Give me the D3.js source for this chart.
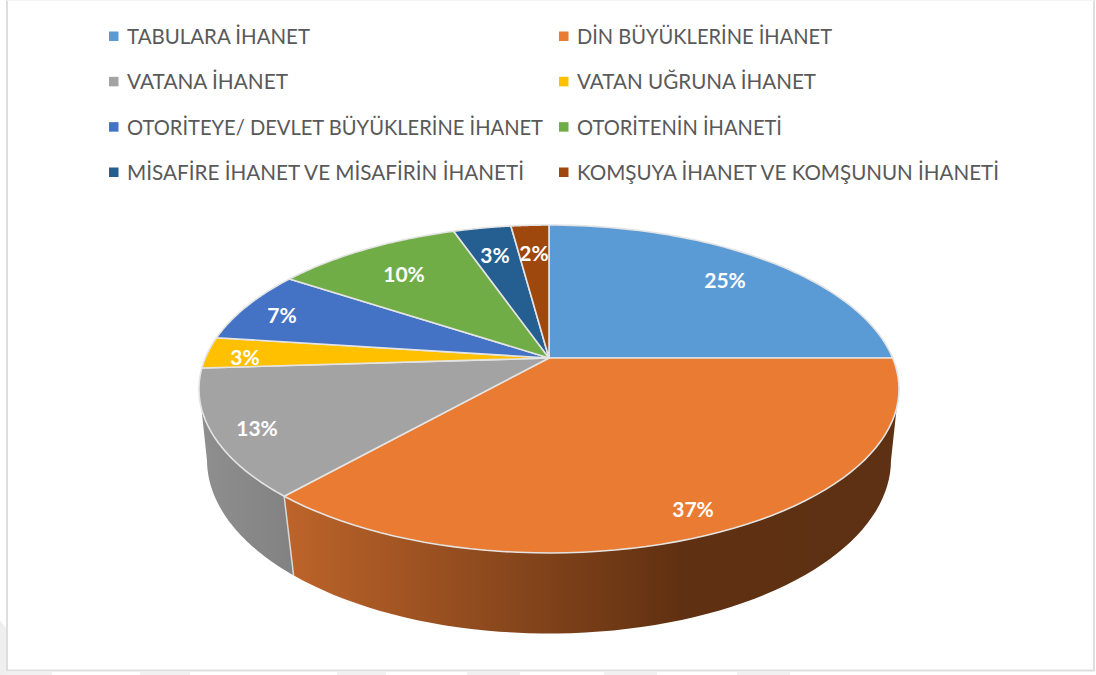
<!DOCTYPE html>
<html><head><meta charset="utf-8">
<script src="https://cdn.jsdelivr.net/npm/d3@7/dist/d3.min.js"></script>
<style>html,body{margin:0;padding:0;background:#fff}svg{display:block}</style>
</head><body><svg id="c" width="1096" height="675"></svg>
<script>
const categories = ["TABULARA İHANET","DİN BÜYÜKLERİNE İHANET","VATANA İHANET","VATAN UĞRUNA İHANET","OTORİTEYE/ DEVLET BÜYÜKLERİNE İHANET","OTORİTENİN İHANETİ","MİSAFİRE İHANET VE MİSAFİRİN İHANETİ","KOMŞUYA İHANET VE KOMŞUNUN İHANETİ"];
const values = [25, 36.5, 12.5, 3.1, 7.2, 10.4, 3.2, 2.1];
const colors = ["#5B9BD5","#EA7B32","#A3A3A3","#FFC000","#4472C4","#70AD47","#255E91","#9E480E"];
const labelSpots = [[725,279],[693,508],[257,427],[245,356],[282,314],[404,273],[495,254],[534,252]];
const legendWidths = [183,255,161,239,416,205,397,422];
const watermarkBands = [[0,52],[140,190],[337,386],[467,520],[604,657],[737,790]];

const svg = d3.select("#c");
const defs = svg.append("defs");

// faint scan remnants round the card
watermarkBands.forEach(b=>svg.append("rect").attr("x",b[0]).attr("y",672).attr("width",b[1]-b[0]).attr("height",3).attr("fill","#f1f1f1"));
svg.append("path").attr("d",d3.line()([[0,620],[6,628],[6,675],[0,675]])+"Z").attr("fill","#efefef");

// frame
svg.append("rect").attr("x",7.5).attr("y",0.5).attr("width",1086.5).attr("height",670)
  .attr("fill","#fff").attr("stroke","none");
const frame = d3.line();
svg.append("path").attr("d",frame([[7,0],[7,670.5],[1094,670.5],[1094,0]]))
  .attr("fill","none").attr("stroke","#dedede").attr("stroke-width",2);
svg.append("path").attr("d",frame([[7,0.5],[1094,0.5]])).attr("fill","none").attr("stroke","#f3f3f3").attr("stroke-width",1);

// perspective discs
const topDisc = {cx:549, cy:358, A:343.7, B:158.1, k:0.189};
const lowDisc = {cx:549, cy:430.5, A:337, B:168.5, k:0.17};
const proj = (d, t) => {
  const w = 1 + d.k*Math.cos(t);
  return [d.cx + d.A*Math.sin(t)/w, d.cy - d.B*Math.cos(t)/w];
};
const samples = (a,b) => d3.range(0,61).map(i => a + (b-a)*i/60);
const line = d3.line();
const pie = d3.pie().sort(null).value(d=>d)(values);

// sides
const sideMin = 100*Math.PI/180, sideMax = 260*Math.PI/180;
const grad = (id, x1, x2, stops) => {
  const g = defs.append("linearGradient").attr("id",id).attr("gradientUnits","userSpaceOnUse")
    .attr("x1",x1).attr("x2",x2).attr("y1",0).attr("y2",0);
  stops.forEach(s=>g.append("stop").attr("offset",s[0]).attr("stop-color",s[1]));
};
grad("sideOrange",285,900,[[0,"#BD642A"],[0.65,"#5F3011"],[1,"#5E3114"]]);
grad("sideGray",205,292,[[0,"#8E8E8E"],[1,"#828282"]]);
const sideFill = {1:"url(#sideOrange)",2:"url(#sideGray)"};
pie.forEach((s,i)=>{
  const a = Math.max(s.startAngle, sideMin), b = Math.min(s.endAngle, sideMax);
  if (b <= a) return;
  const ang = samples(a,b);
  const pts = ang.map(t=>proj(topDisc,t)).concat(ang.slice().reverse().map(t=>proj(lowDisc,t)));
  svg.append("path").attr("d",line(pts)+"Z").attr("fill",sideFill[i]||colors[i]);
});
// seam between side faces
const seam = pie[1].endAngle;
svg.append("path").attr("d",line([proj(topDisc,seam),proj(lowDisc,seam)]))
  .attr("stroke","#d8d8d8").attr("stroke-width",1.5).attr("fill","none");

// top slices
pie.forEach((s,i)=>{
  const pts = [[topDisc.cx,topDisc.cy]].concat(samples(s.startAngle,s.endAngle).map(t=>proj(topDisc,t)));
  svg.append("path").attr("d",line(pts)+"Z").attr("fill",colors[i])
    .attr("stroke","#e4e4e4").attr("stroke-width",1.6).attr("stroke-linejoin","round");
});

// data labels
const fmt = v => Math.round(v)+"%";
values.forEach((v,i)=>{
  svg.append("text").attr("x",labelSpots[i][0]).attr("y",labelSpots[i][1])
    .attr("text-anchor","middle").attr("dominant-baseline","central")
    .attr("font-family","Lato, 'Open Sans', sans-serif").attr("font-weight",700).attr("font-size",21)
    .attr("fill","#fff").text(fmt(v));
});

// legend
const legX = d3.scaleOrdinal().domain([0,1]).range([108,558]);
const legY = d3.scalePoint().domain([0,1,2,3]).range([36,172]);
categories.forEach((c,i)=>{
  const col=i%2,row=Math.floor(i/2);
  svg.append("rect").attr("x",legX(col)+1).attr("y",legY(row)-4.5).attr("width",9.5).attr("height",9.5).attr("fill",colors[i]);
  svg.append("text").attr("x",legX(col)+19).attr("y",legY(row)).attr("dominant-baseline","central")
    .attr("font-family","Lato, 'Open Sans', sans-serif").attr("font-size",20.5).attr("fill","#595959")
    .attr("textLength",legendWidths[i]).attr("lengthAdjust","spacingAndGlyphs").text(c);
});
</script></body></html>
